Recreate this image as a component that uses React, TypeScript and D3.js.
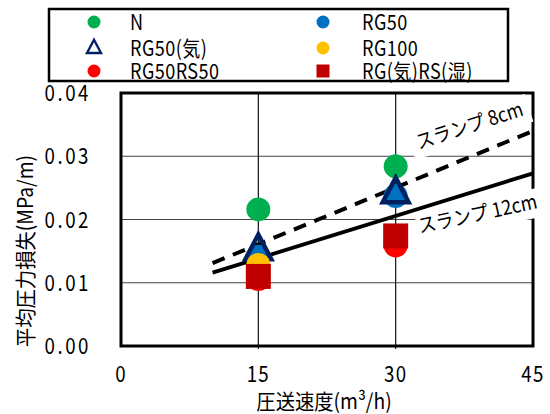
import React, { useEffect, useRef } from 'react';
import * as d3 from 'd3';

// x = 圧送速度 (m3/h), y = 平均圧力損失 (MPa/m)
const speeds = [15, 30];
const seriesN = [0.0216, 0.0284];
const seriesRG50 = [0.0141, 0.0237];
const seriesRG50Ki = [0.0152, 0.0242];
const seriesRG100 = [0.0128, null];
const seriesRG50RS50 = [0.0106, 0.0159];
const seriesRGRS = [0.011, 0.0174];

const slump8 = [[10, 0.0131], [45, 0.034]];
const slump12 = [[10, 0.0116], [45, 0.0273]];

const xTicks = [0, 15, 30, 45];
const yTicks = [0, 0.01, 0.02, 0.03, 0.04];

const W = 550;
const H = 414;
const FONT = '"Noto Sans CJK JP", sans-serif';

type Series = { name: string; values: (number | null)[]; shape: string; color: string };

const series: Series[] = [
  { name: 'N', values: seriesN, shape: 'circle', color: '#00b050' },
  { name: 'RG50', values: seriesRG50, shape: 'circle', color: '#0070c0' },
  { name: 'RG50(気)', values: seriesRG50Ki, shape: 'triangle', color: '#002060' },
  { name: 'RG100', values: seriesRG100, shape: 'circle', color: '#ffc000' },
  { name: 'RG50RS50', values: seriesRG50RS50, shape: 'circle', color: '#ff0000' },
  { name: 'RG(気)RS(湿)', values: seriesRGRS, shape: 'square', color: '#c00000' },
];

// legend layout order (two columns, three rows)
const legendOrder = ['N', 'RG50', 'RG50(気)', 'RG100', 'RG50RS50', 'RG(気)RS(湿)'];

function drawMarker(g: any, shape: string, color: string, size: number) {
  if (shape === 'circle') {
    g.append('circle').attr('r', size / 2).attr('fill', color);
  } else if (shape === 'square') {
    g.append('rect')
      .attr('x', -size / 2)
      .attr('y', -size / 2)
      .attr('width', size)
      .attr('height', size)
      .attr('fill', color);
  } else {
    const h = size * 0.95;
    const w = size * 1.0;
    g.append('path')
      .attr('d', `M0,${-h * 0.62}L${w / 2},${h * 0.38}L${-w / 2},${h * 0.38}Z`)
      .attr('fill', 'none')
      .attr('stroke', color)
      .attr('stroke-width', size * 0.17)
      .attr('stroke-linejoin', 'miter');
  }
}

// condensed text: the reference font is narrow and tall
function narrowText(parent: any, tx: number, ty: number, str: string, size: number, anchor = 'start', sx = 0.85) {
  return parent
    .append('text')
    .attr('transform', `translate(${tx},${ty}) scale(${sx},1)`)
    .attr('text-anchor', anchor)
    .attr('font-size', size)
    .attr('fill', '#000')
    .text(str);
}

export default function App() {
  const ref = useRef<SVGSVGElement | null>(null);

  useEffect(() => {
    document.body.style.margin = '0';
    const svg = d3.select(ref.current);
    svg.selectAll('*').remove();

    const margin = { left: 121, right: 17, top: 93, bottom: 68 };
    const x = d3.scaleLinear().domain([0, 45]).range([margin.left, W - margin.right]);
    const y = d3.scaleLinear().domain([0, 0.04]).range([H - margin.bottom, margin.top]);

    const root = svg.append('g').style('font-family', FONT);

    // grid
    root
      .append('g')
      .selectAll('line')
      .data(yTicks.slice(1, -1))
      .join('line')
      .attr('x1', x(0))
      .attr('x2', x(45))
      .attr('y1', (d) => y(d))
      .attr('y2', (d) => y(d))
      .attr('stroke', '#444')
      .attr('stroke-width', 1.2);
    root
      .append('g')
      .selectAll('line')
      .data(xTicks.slice(1, -1))
      .join('line')
      .attr('x1', (d) => x(d))
      .attr('x2', (d) => x(d))
      .attr('y1', y(0) + 3)
      .attr('y2', y(0.04))
      .attr('stroke', '#111')
      .attr('stroke-width', 1.2);

    // slump lines
    const line = d3
      .line<number[]>()
      .x((d) => x(d[0]))
      .y((d) => y(d[1]));
    root
      .append('path')
      .attr('d', line(slump8))
      .attr('fill', 'none')
      .attr('stroke', '#000')
      .attr('stroke-width', 4)
      .attr('stroke-dasharray', '13,9');
    root
      .append('path')
      .attr('d', line(slump12))
      .attr('fill', 'none')
      .attr('stroke', '#000')
      .attr('stroke-width', 3.8);

    // plot border
    root
      .append('rect')
      .attr('x', x(0))
      .attr('y', y(0.04))
      .attr('width', x(45) - x(0))
      .attr('height', y(0) - y(0.04))
      .attr('fill', 'none')
      .attr('stroke', '#000')
      .attr('stroke-width', 3);

    // slump labels with white boxes
    const labels = [
      { text: 'スランプ  8cm', pos: [38.3, 0.0338], angle: -18 },
      { text: 'スランプ  12cm', pos: [39.1, 0.0198], angle: -12 },
    ];
    labels.forEach((l) => {
      const g = root
        .append('g')
        .attr('transform', `translate(${x(l.pos[0])},${y(l.pos[1])}) rotate(${l.angle})`);
      g.append('rect')
        .attr('x', -62)
        .attr('y', -20)
        .attr('width', 124)
        .attr('height', 29)
        .attr('fill', '#fff');
      narrowText(g, 0, 0, l.text, 20, 'middle', 0.9);
    });

    // markers
    series.forEach((s) => {
      s.values.forEach((v, i) => {
        if (v == null) return;
        const g = root.append('g').attr('transform', `translate(${x(speeds[i])},${y(v)})`);
        drawMarker(g, s.shape, s.color, s.shape === 'triangle' ? 26 : s.shape === 'square' ? 25 : 24);
      });
    });

    // axes labels
    const yl = root.append('g');
    yTicks.forEach((d) => {
      narrowText(yl, 91, y(d) + 8, d3.format('.2f')(d), 22, 'end', 0.85).attr('letter-spacing', 3);
    });
    const xl = root.append('g');
    xTicks.forEach((d) => {
      narrowText(xl, x(d), 382, String(d), 22, 'middle', 0.85).attr('letter-spacing', 1.5);
    });

    narrowText(root, 324, 409, '圧送速度(m³/h)', 21, 'middle', 0.92);
    root
      .append('text')
      .attr('transform', `translate(33,251) rotate(-90) scale(0.92,1)`)
      .attr('text-anchor', 'middle')
      .attr('font-size', 21)
      .text('平均圧力損失(MPa/m)');

    // legend
    const lg = root.append('g');
    lg.append('rect')
      .attr('x', 49)
      .attr('y', 9)
      .attr('width', 459)
      .attr('height', 72)
      .attr('fill', '#fff')
      .attr('stroke', '#000')
      .attr('stroke-width', 2.5);
    const rowY = [22, 48, 71];
    const colMarker = [94, 323];
    const colText = [130, 362];
    legendOrder.forEach((name, k) => {
      const s = series.find((d) => d.name === name)!;
      const col = k % 2;
      const row = Math.floor(k / 2);
      const g = lg.append('g').attr('transform', `translate(${colMarker[col]},${rowY[row]})`);
      drawMarker(g, s.shape, s.color, s.shape === 'triangle' ? 14 : 13);
      narrowText(lg, colText[col], rowY[row] + 8, name, 21, 'start', 0.86).attr('letter-spacing', 0.5);
    });
  }, []);

  return <svg ref={ref} width={W} height={H} style={{ display: 'block', background: '#fff' }} />;
}
